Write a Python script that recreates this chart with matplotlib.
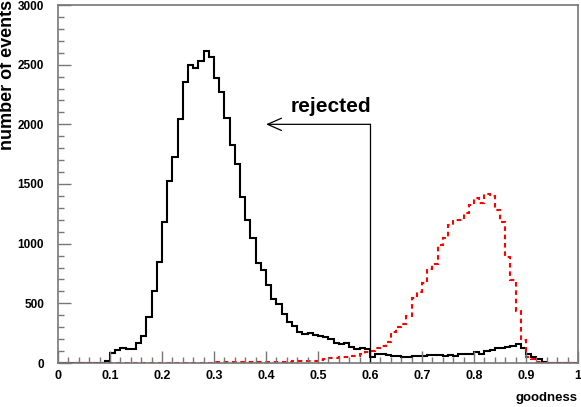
import matplotlib
matplotlib.use("Agg")
import matplotlib.pyplot as plt
import numpy as np
from matplotlib.ticker import MultipleLocator

plt.rcParams['font.family'] = ['Liberation Sans', 'DejaVu Sans']
plt.rcParams['font.weight'] = 'bold'

# bin edges of the goodness histograms (100 bins of 0.01)
edges = np.linspace(0, 1, 101)

# events per bin, black = background, red = signal
background = [0, 0, 0, 0, 0, 0, 0, 0, 0, 20,
              86, 109, 123, 115, 115, 170, 226, 383, 606, 849,
              1179, 1525, 1729, 2042, 2355, 2495, 2472, 2528, 2617, 2561,
              2386, 2268, 2056, 1824, 1670, 1389, 1198, 1050, 835, 779,
              654, 534, 497, 411, 344, 313, 260, 243, 254, 232,
              226, 220, 199, 165, 157, 165, 134, 120, 126, 115,
              48, 75, 75, 67, 56, 56, 53, 53, 56, 56,
              59, 64, 64, 67, 56, 67, 56, 75, 75, 75,
              89, 75, 98, 109, 123, 128, 137, 145, 159, 123,
              75, 53, 31, 10, 3, 0, 0, 0, 0, 0]
signal = [0, 0, 0, 0, 0, 0, 0, 0, 0, 0,
          0, 0, 0, 0, 0, 0, 0, 0, 0, 0,
          0, 0, 0, 0, 0, 3, 3, 3, 3, 3,
          5, 5, 5, 5, 5, 8, 8, 8, 8, 8,
          12, 12, 12, 12, 12, 17, 17, 17, 17, 17,
          25, 30, 42, 45, 50, 50, 55, 60, 72, 90,
          103, 123, 145, 173, 260, 300, 330, 395, 545, 598,
          668, 790, 830, 989, 1045, 1155, 1198, 1200, 1258, 1320,
          1385, 1338, 1416, 1400, 1282, 1184, 886, 696, 438, 193,
          53, 31, 10, 3, 0, 0, 0, 0, 0, 0]

cut = 0.6
arrow_y = 2000
arrow_end = 0.40

fig = plt.figure(figsize=(5.81, 4.07), dpi=100)
ax = fig.add_axes([58/581, 44/407, 520/581, 358/407])

ax.stairs(background, edges, color='black', lw=1.5)
ax.stairs(signal, edges, color='red', lw=1.5, linestyle=(0, (2.2, 1.8)))

# cut line with arrow
ax.plot([cut, cut], [0, arrow_y], color='black', lw=0.9)
ax.annotate('', xy=(arrow_end, arrow_y), xytext=(cut + 0.001, arrow_y),
            arrowprops=dict(arrowstyle='->,head_length=0.5,head_width=0.22',
                            mutation_scale=20, lw=0.9, color='black',
                            shrinkA=0, shrinkB=0))
ax.text(0.525, 2100, 'rejected', fontsize=15, fontweight='bold', ha='center', va='baseline')

ax.set_xlim(0, 1)
ax.set_ylim(0, 3000)
ax.xaxis.set_major_locator(MultipleLocator(0.1))
ax.xaxis.set_minor_locator(MultipleLocator(0.02))
ax.yaxis.set_major_locator(MultipleLocator(500))
ax.yaxis.set_minor_locator(MultipleLocator(100))
ax.xaxis.set_major_formatter(lambda v, p: '0' if abs(v) < 1e-9 else ('1' if abs(v - 1) < 1e-9 else f'{v:.1f}'))
ax.tick_params(axis='both', which='both', direction='in', top=False, right=False, color='#777777')
ax.tick_params(axis='x', which='major', length=9, width=1, pad=5, labelsize=9)
ax.tick_params(axis='x', which='minor', length=4.5, width=1)
ax.tick_params(axis='y', which='major', length=9, width=1, pad=10, labelsize=8.5)
ax.tick_params(axis='y', which='minor', length=4.5, width=1)
for s in ax.spines.values():
    s.set_color('#777777')
    s.set_linewidth(1.2)

fig.text(578/581, 1 - 398/407, 'goodness', fontsize=9.5, fontweight='bold', ha='right', va='center')
fig.text(8/581, 1.0, 'number of events', fontsize=13, fontweight='bold', rotation=90, ha='center', va='top')

fig.savefig('out.png', dpi=100)
